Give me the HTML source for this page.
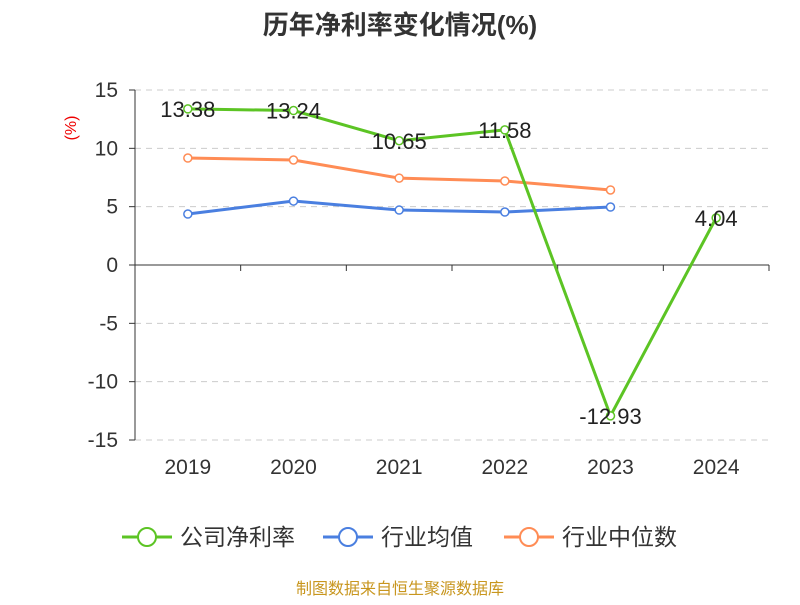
<!DOCTYPE html>
<html><head><meta charset="utf-8"><style>
body{margin:0;background:#fff;}
svg text{font-family:"Liberation Sans","Noto Sans CJK SC",sans-serif;}
</style></head><body>
<svg id="c" width="800" height="600" xmlns="http://www.w3.org/2000/svg">
<text x="400" y="34" text-anchor="middle" font-size="26" font-weight="bold" fill="#333">历年净利率变化情况(%)</text>
<text x="76" y="128" font-size="16" fill="#e00" transform="rotate(-90 76 128)" text-anchor="middle">(%)</text>
<g id="grid"></g><g id="axes"></g><g id="series"></g>
<g id="legend"></g>
<text x="400" y="594" text-anchor="middle" font-size="16" fill="#c8961e">制图数据来自恒生聚源数据库</text>
</svg>
<script>
const categories=["2019","2020","2021","2022","2023","2024"];
const companyValues=[13.38,13.24,10.65,11.58,-12.93,4.04];
const industryAvg=[4.37,5.48,4.71,4.54,4.97,null];
const industryMedian=[9.17,9.0,7.45,7.2,6.43,null];
const yTicks=[15,10,5,0,-5,-10,-15];
const NS="http://www.w3.org/2000/svg";
const x0=135,x1=769,yTop=90,yBot=440,yMin=-15,yMax=15;
const step=(x1-x0)/categories.length;
const X=i=>x0+step*(i+0.5);
const Y=v=>yBot-(v-yMin)/(yMax-yMin)*(yBot-yTop);
function mk(t,a,p){const e=document.createElementNS(NS,t);for(const k in a)e.setAttribute(k,a[k]);p.appendChild(e);return e;}
const grid=document.getElementById('grid'),axes=document.getElementById('axes'),ser=document.getElementById('series');
yTicks.forEach(v=>{
 if(v!==0){const l=mk('line',{x1:x0,x2:x1,y1:Y(v),y2:Y(v),stroke:'#ccc','stroke-dasharray':'6,5'},grid);
 
 }
 const t=mk('text',{x:118,y:Y(v)+7,'text-anchor':'end','font-size':21,fill:'#333'},axes);t.textContent=v;
 
 
});
const yl=mk('line',{x1:x0,x2:x0,y1:yTop,y2:yBot,stroke:'#333'},axes);


yTicks.forEach(v=>mk('line',{x1:x0-6,x2:x0,y1:Y(v),y2:Y(v),stroke:'#333'},axes));
const xl=mk('line',{x1:x0,x2:x1,y1:Y(0),y2:Y(0),stroke:'#333'},axes);


for(let i=0;i<=categories.length;i++)mk('line',{x1:x0+step*i,x2:x0+step*i,y1:Y(0),y2:Y(0)+6,stroke:'#333'},axes);
categories.forEach((c,i)=>{const t=mk('text',{x:X(i),y:474,'text-anchor':'middle','font-size':21,fill:'#333'},axes);t.textContent=c;
 
 });
function series(vals,color,name,labels){
 const pts=vals.map((v,i)=>v==null?null:[X(i),Y(v)]).filter(p=>p);
 const pl=mk('polyline',{points:pts.map(p=>p.join(',')).join(' '),fill:'none',stroke:color,'stroke-width':3},ser);
 
 
 vals.forEach((v,i)=>{if(v==null)return;
  const c=mk('circle',{cx:X(i),cy:Y(v),r:4,fill:'#fff',stroke:color,'stroke-width':1.5},ser);
  
  
  if(labels){const t=mk('text',{x:X(i),y:Y(v)+8,'text-anchor':'middle','font-size':22,fill:'#222'},ser);t.textContent=v.toFixed(2);
   
   }
 });
}
series(industryMedian,'#ff8c55','industry-median',false);
series(industryAvg,'#4a7fe0','industry-average',false);
series(companyValues,'#5cc424','company-net-margin',true);
const lg=document.getElementById('legend');
[["公司净利率","#5cc424",122],["行业均值","#4a7fe0",323],["行业中位数","#ff8c55",504]].forEach(([n,c,x])=>{
 const g=mk('g',{},lg);
 
 
 mk('line',{x1:x,x2:x+50,y1:537,y2:537,stroke:c,'stroke-width':3},g);
 mk('circle',{cx:x+25,cy:537,r:9,fill:'#fff',stroke:c,'stroke-width':2},g);
 const t=mk('text',{x:x+58,y:545,'font-size':23,fill:'#333'},g);t.textContent=n;
});
</script>
</body></html>
